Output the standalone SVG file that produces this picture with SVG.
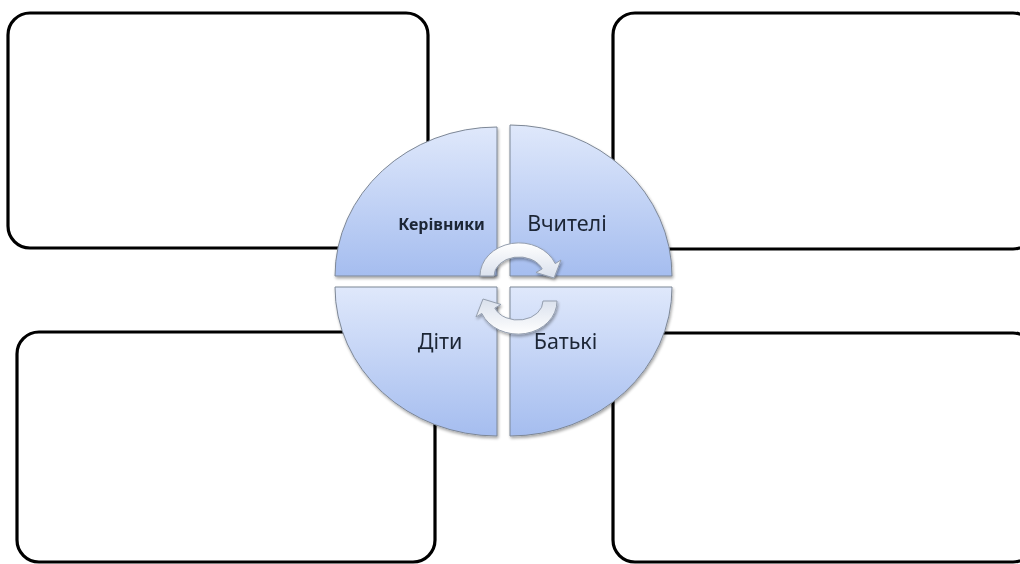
<svg xmlns="http://www.w3.org/2000/svg" width="1020" height="564" viewBox="0 0 1020 564">
<style>
.box{fill:#ffffff;stroke:#000000;stroke-width:3.2}
.quad{fill:url(#qg);stroke:#7d8796;stroke-width:1}
.arrow{fill:url(#ag);stroke:#949eae;stroke-width:1}
.lbl{font-family:"Noto Sans","Liberation Sans",sans-serif;fill:#1c2535}
</style>
<defs>
<linearGradient id="qg" x1="0" y1="0" x2="0" y2="1">
<stop offset="0" stop-color="#dfe8fb"/>
<stop offset="1" stop-color="#a5bdef"/>
</linearGradient>
<linearGradient id="ag" x1="0" y1="0" x2="0" y2="1">
<stop offset="0" stop-color="#ffffff"/>
<stop offset="1" stop-color="#d9e0ec"/>
</linearGradient>
<filter id="sh" x="-10%" y="-10%" width="120%" height="120%">
<feGaussianBlur in="SourceAlpha" stdDeviation="1.5"/>
<feOffset dx="1" dy="1.5" result="b"/>
<feComponentTransfer><feFuncA type="linear" slope="0.35"/></feComponentTransfer>
<feMerge><feMergeNode/><feMergeNode in="SourceGraphic"/></feMerge>
</filter>
</defs>
<g id="box-top-left"><rect class="box" x="8" y="13" width="420" height="235" rx="22"/></g>
<g id="box-top-right"><rect class="box" x="613" y="13" width="422" height="236" rx="22"/></g>
<g id="box-bottom-left"><rect class="box" x="17" y="332" width="418" height="230" rx="22"/></g>
<g id="box-bottom-right"><rect class="box" x="613" y="333" width="422" height="229" rx="22"/></g>
<g id="quad-kerivnyky" filter="url(#sh)">
<path class="quad" d="M497,276 L335,276 A162,149 0 0 1 497,127 Z"/>
<text class="lbl" x="441.5" y="230" font-size="16" font-weight="bold" text-anchor="middle">Керівники</text>
</g>
<g id="quad-vchyteli" filter="url(#sh)">
<path class="quad" d="M510,276 L510,125 A162,151 0 0 1 672,276 Z"/>
<text class="lbl" x="567" y="231" font-size="21.5" text-anchor="middle">Вчителі</text>
</g>
<g id="quad-dity" filter="url(#sh)">
<path class="quad" d="M497,287 L497,436 A162,149 0 0 1 335,287 Z"/>
<text class="lbl" x="440" y="349" font-size="21.5" text-anchor="middle">Діти</text>
</g>
<g id="quad-batki" filter="url(#sh)">
<path class="quad" d="M510,287 L672,287 A162,149 0 0 1 510,436 Z"/>
<text class="lbl" x="565.5" y="349" font-size="21.5" text-anchor="middle">Батькі</text>
</g>
<g id="connectors" filter="url(#sh)">
<path class="arrow" d="M480,276 A39,33 0 0 1 555.2,263.6 L561,260 L554,278 L536,272.5 L542.2,268.9 A25,19 0 0 0 494,276 Z"/>
<path class="arrow" transform="rotate(180 518.5 288.5)" d="M480,276 A39,33 0 0 1 555.2,263.6 L561,260 L554,278 L536,272.5 L542.2,268.9 A25,19 0 0 0 494,276 Z"/>
</g>
</svg>
